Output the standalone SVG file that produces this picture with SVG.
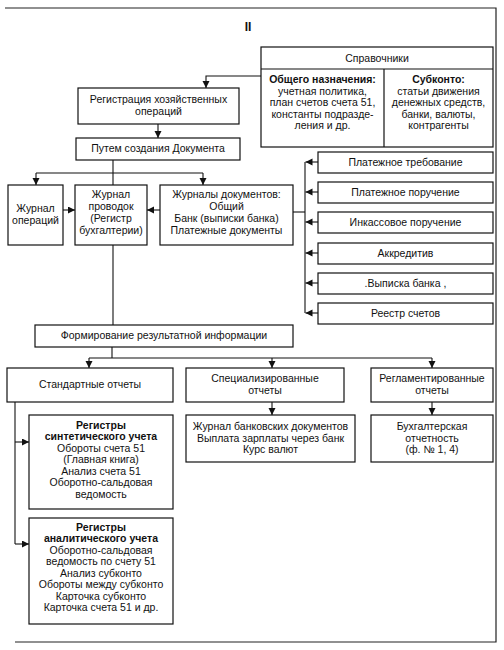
<svg xmlns="http://www.w3.org/2000/svg" width="504" height="650" viewBox="0 0 504 650">
<defs>
<marker id="ar" markerUnits="userSpaceOnUse" markerWidth="8" markerHeight="8" refX="7" refY="3.5" orient="auto">
<path d="M0,0 L7,3.5 L0,7 z" fill="#111"/>
</marker>
<style>
text{font-family:"Liberation Sans",Arial,sans-serif;font-size:10.5px;fill:#111;text-anchor:middle}
.b{font-weight:bold}
.box{fill:#fff;stroke:#111;stroke-width:1.2}
.c{fill:none;stroke:#111;stroke-width:1.1}
.a{marker-end:url(#ar)}
</style>
</defs>
<rect width="504" height="650" fill="#fff"/>
<polyline points="5,8 496,8 496,642 15,642" fill="none" stroke="#222" stroke-width="1.2"/>
<text x="248" y="31" class="b" style="font-size:12px">II</text>

<g id="spravochniki">
<rect class="box" x="261" y="47" width="232" height="100"/>
<line x1="261" y1="69" x2="493" y2="69" stroke="#111" stroke-width="1.2"/>
<line x1="384" y1="69" x2="384" y2="147" stroke="#111" stroke-width="1.2"/>
<text x="377" y="62">Справочники</text>
<text x="322.5" y="83" class="b">Общего назначения:</text>
<text x="322.5" y="94.5">учетная политика,</text>
<text x="322.5" y="106">план счетов счета 51,</text>
<text x="322.5" y="117.5">константы подразде-</text>
<text x="322.5" y="129">ления и др.</text>
<text x="438.5" y="83" class="b">Субконто:</text>
<text x="438.5" y="94.5">статьи движения</text>
<text x="438.5" y="106">денежных средств,</text>
<text x="438.5" y="117.5">банки, валюты,</text>
<text x="438.5" y="129">контрагенты</text>
</g>

<g id="registraciya">
<rect class="box" x="78" y="88" width="161" height="36"/>
<text x="158.5" y="103">Регистрация хозяйственных</text>
<text x="158.5" y="115">операций</text>
</g>

<g id="putem">
<rect class="box" x="76" y="138" width="164" height="22"/>
<text x="158" y="152">Путем создания Документа</text>
</g>

<g id="zhurnal-operaciy">
<rect class="box" x="8" y="185" width="55" height="60"/>
<text x="35.5" y="212">Журнал</text>
<text x="35.5" y="223.5">операций</text>
</g>

<g id="zhurnal-provodok">
<rect class="box" x="75" y="185" width="72" height="60"/>
<text x="111" y="198">Журнал</text>
<text x="111" y="210">проводок</text>
<text x="111" y="222">(Регистр</text>
<text x="111" y="234">бухгалтерии)</text>
</g>

<g id="zhurnaly-dokumentov">
<rect class="box" x="160" y="185" width="133" height="60"/>
<text x="226.5" y="198">Журналы документов:</text>
<text x="226.5" y="210">Общий</text>
<text x="226.5" y="222">Банк (выписки банка)</text>
<text x="226.5" y="234">Платежные документы</text>
</g>

<g id="plat-treb"><rect class="box" x="318" y="152" width="175" height="21"/><text x="405.5" y="166">Платежное требование</text></g>
<g id="plat-poruch"><rect class="box" x="318" y="182" width="175" height="21"/><text x="405.5" y="196">Платежное поручение</text></g>
<g id="inkass"><rect class="box" x="318" y="212" width="175" height="21"/><text x="405.5" y="226">Инкассовое поручение</text></g>
<g id="akkreditiv"><rect class="box" x="318" y="243" width="175" height="21"/><text x="405.5" y="257">Аккредитив</text></g>
<g id="vypiska"><rect class="box" x="318" y="273" width="175" height="21"/><text x="405.5" y="287">.Выписка банка ,</text></g>
<g id="reestr"><rect class="box" x="318" y="303" width="175" height="21"/><text x="405.5" y="317">Реестр счетов</text></g>

<g id="formirovanie">
<rect class="box" x="35" y="325" width="258" height="22"/>
<text x="164" y="339">Формирование результатной информации</text>
</g>

<g id="standartnye">
<rect class="box" x="7" y="368" width="166" height="34"/>
<text x="90" y="388">Стандартные отчеты</text>
</g>

<g id="specializirovannye">
<rect class="box" x="186" y="368" width="158" height="34"/>
<text x="265" y="382">Специализированные</text>
<text x="265" y="394">отчеты</text>
</g>

<g id="reglamentirovannye">
<rect class="box" x="371" y="368" width="122" height="34"/>
<text x="432" y="382">Регламентированные</text>
<text x="432" y="394">отчеты</text>
</g>

<g id="sinteticheskiy">
<rect class="box" x="29" y="415" width="144" height="94"/>
<text x="101" y="428.5" class="b">Регистры</text>
<text x="101" y="440" class="b">синтетического учета</text>
<text x="101" y="451.5">Обороты счета 51</text>
<text x="101" y="463">(Главная книга)</text>
<text x="101" y="474.5">Анализ счета 51</text>
<text x="101" y="486">Оборотно-сальдовая</text>
<text x="101" y="497.5">ведомость</text>
</g>

<g id="analiticheskiy">
<rect class="box" x="29" y="518" width="144" height="106"/>
<text x="101" y="530.5" class="b">Регистры</text>
<text x="101" y="542" class="b">аналитического учета</text>
<text x="101" y="553.5">Оборотно-сальдовая</text>
<text x="101" y="565">ведомость по счету 51</text>
<text x="101" y="576.5">Анализ субконто</text>
<text x="101" y="588">Обороты между субконто</text>
<text x="101" y="599.5">Карточка субконто</text>
<text x="101" y="611">Карточка счета 51 и др.</text>
</g>

<g id="zhurnal-bank">
<rect class="box" x="186" y="415" width="169" height="47"/>
<text x="270.5" y="430">Журнал банковских документов</text>
<text x="270.5" y="441.5">Выплата зарплаты через банк</text>
<text x="270.5" y="453">Курс валют</text>
</g>

<g id="buh-otchetnost">
<rect class="box" x="371" y="415" width="122" height="47"/>
<text x="432" y="430">Бухгалтерская</text>
<text x="432" y="441.5">отчетность</text>
<text x="432" y="453">(ф. № 1, 4)</text>
</g>

<g id="connectors">
<path class="c a" d="M261,76 H206 V88"/>
<path class="c a" d="M158,124 V138"/>
<path class="c" d="M113,160 V185"/>
<path class="c" d="M36,173 H203"/>
<path class="c a" d="M36,173 V185"/>
<path class="c a" d="M203,173 V185"/>
<path class="c a" d="M63,210 H75"/>
<path class="c a" d="M160,210 H147"/>
<path class="c" d="M293,212 H305"/>
<path class="c" d="M305,162 V313"/>
<path class="c a" d="M318,162 H305.5"/>
<path class="c a" d="M318,192 H305.5"/>
<path class="c a" d="M318,222 H305.5"/>
<path class="c a" d="M318,253 H305.5"/>
<path class="c a" d="M318,283 H305.5"/>
<path class="c a" d="M318,313 H305.5"/>
<path class="c" d="M113,245 V325"/>
<path class="c" d="M112,347 V358"/>
<path class="c" d="M89,358 H432"/>
<path class="c a" d="M89,358 V368"/>
<path class="c a" d="M272,358 V368"/>
<path class="c a" d="M432,358 V368"/>
<path class="c a" d="M272,402 V415"/>
<path class="c a" d="M432,402 V415"/>
<path class="c" d="M15,402 V544"/>
<path class="c a" d="M15,442 H29"/>
<path class="c a" d="M15,544 H29"/>
</g>
</svg>
